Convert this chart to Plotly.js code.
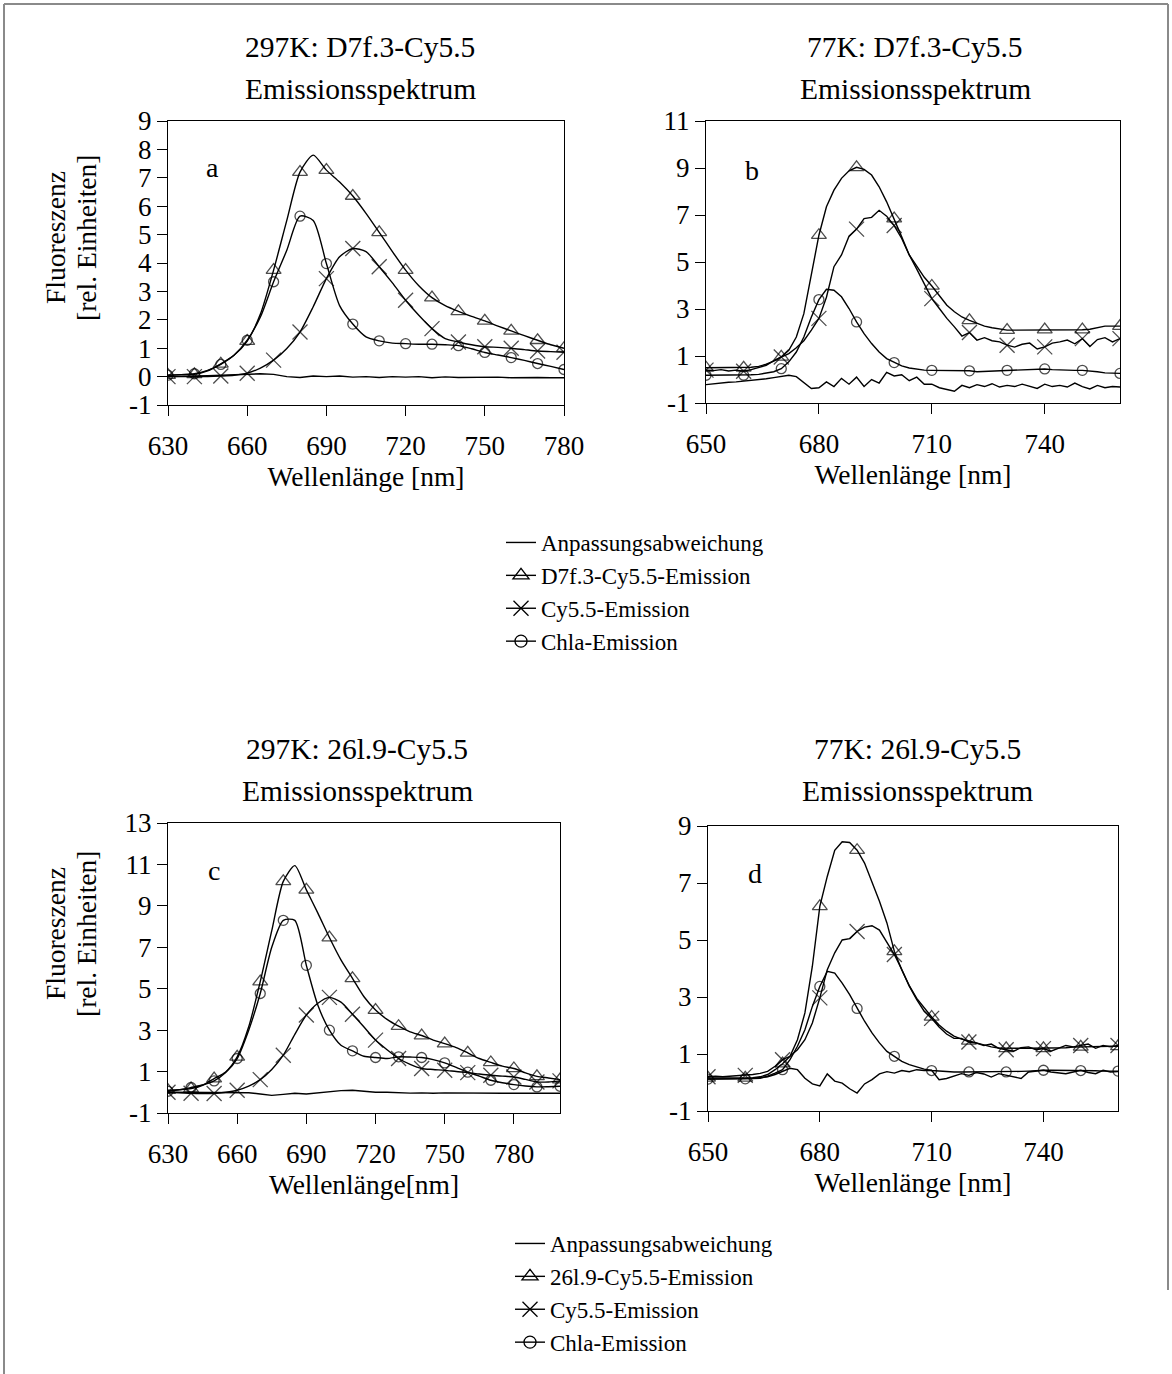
<!DOCTYPE html>
<html><head><meta charset="utf-8">
<script src="https://cdn.plot.ly/plotly-3.0.1.min.js"></script>
<style>html,body{margin:0;padding:0;background:#fff;}#chart{width:1172px;height:1374px;}</style>
</head><body><div id="chart"></div>
<script>
// ---------- Panel a: 297K D7f.3-Cy5.5 ----------
const waveA = [630,635,640,645,650,655,660,665,670,675,680,685,690,695,700,705,710,715,720,725,730,735,740,745,750,755,760,765,770,775,780];
const fitA   = [0.00,0.00,0.02,0.03,0.05,0.06,0.08,0.10,0.08,0.00,-0.03,0.02,0.00,0.02,-0.02,0.00,-0.03,0.00,-0.02,0.00,-0.04,-0.01,-0.03,-0.02,-0.03,-0.02,-0.04,-0.03,-0.03,-0.04,-0.04];
const totalA = [0.05,0.07,0.08,0.2,0.45,0.75,1.25,2.2,3.75,5.5,7.2,7.8,7.27,6.85,6.36,5.75,5.08,4.4,3.75,3.2,2.78,2.5,2.3,2.12,1.96,1.78,1.61,1.44,1.28,1.12,1.0];
const cyA    = [0,0,0,0,0.02,0.05,0.12,0.3,0.58,0.99,1.57,2.46,3.45,4.22,4.51,4.4,3.87,3.3,2.69,2.16,1.69,1.34,1.22,1.12,1.05,1.03,1.0,0.95,0.9,0.88,0.86];
const chlA   = [0.05,0.07,0.1,0.22,0.43,0.75,1.28,2.1,3.34,4.45,5.65,5.5,3.98,2.5,1.85,1.4,1.26,1.18,1.16,1.14,1.14,1.12,1.09,0.98,0.85,0.76,0.67,0.57,0.46,0.36,0.25];

// ---------- Panel b: 77K D7f.3-Cy5.5 ----------
const waveB = [650,652,654,656,658,660,662,664,666,668,670,672,674,676,678,680,682,684,686,688,690,692,694,696,698,700,702,704,706,708,710,712,714,716,718,720,722,724,726,728,730,732,734,736,738,740,742,744,746,748,750,752,754,756,758,760];
const fitB   = [-0.22,-0.18,-0.15,-0.12,-0.1,-0.07,-0.05,-0.02,0.03,0.08, 0.12,0.18,0.12,-0.15,-0.38,-0.35,-0.1,-0.3,0.05,-0.2, 0.1,-0.3,0.0,-0.15,0.3,0.15,0.2,-0.05,0.1,-0.2, -0.2,-0.35,-0.42,-0.5,-0.25,-0.35,-0.22,-0.3,-0.18,-0.32, -0.25,-0.3,-0.2,-0.28,-0.38,-0.2,-0.3,-0.25,-0.32,-0.15, -0.3,-0.4,-0.25,-0.35,-0.3,-0.32];
const totalB = [0.5,0.5,0.5,0.5,0.5,0.5,0.52,0.56,0.65,0.78, 0.96,1.24,1.81,2.8,4.5,6.14,7.35,8.06,8.56,8.88, 9.03,8.94,8.7,8.2,7.56,6.85,6.07,5.3,4.8,4.35, 3.98,3.55,3.16,2.88,2.66,2.52,2.38,2.27,2.2,2.15, 2.1,2.1,2.1,2.1,2.1,2.12,2.12,2.12,2.12,2.12, 2.12,2.14,2.2,2.27,2.27,2.27];
const cyB    = [0.4,0.38,0.42,0.36,0.4,0.35,0.42,0.5,0.6,0.8, 0.96,1.1,1.35,1.65,2.1,2.6,3.5,4.8,5.3,6.1, 6.4,6.85,6.9,7.2,6.95,6.55,6.0,5.3,4.7,4.05, 3.44,3.02,2.6,2.24,1.85,2.0,1.67,1.78,1.65,1.6, 1.46,1.38,1.5,1.55,1.3,1.39,1.55,1.6,1.68,1.52, 1.74,1.4,1.7,1.78,1.6,1.74];
const chlB   = [0.18,0.18,0.18,0.18,0.18,0.18,0.2,0.22,0.26,0.33, 0.46,0.75,1.17,1.81,2.66,3.4,3.84,3.8,3.52,3.02, 2.45,1.95,1.53,1.17,0.89,0.72,0.58,0.49,0.43,0.4, 0.39,0.39,0.39,0.38,0.38,0.37,0.33,0.34,0.37,0.38, 0.39,0.39,0.39,0.4,0.42,0.45,0.42,0.4,0.39,0.39, 0.39,0.37,0.33,0.28,0.26,0.26];

// ---------- Panel c: 297K 26l.9-Cy5.5 ----------
const waveC = [630,635,640,645,650,655,660,665,670,675,680,685,690,695,700,705,710,715,720,725,730,735,740,745,750,755,760,765,770,775,780,785,790,795,800];
const fitC   = [0,0,0,0,0,0,0,-0.02,-0.08,-0.15,-0.1,-0.05,-0.08,-0.02,0.05,0.08,0.1,0.06,0,0,-0.03,-0.04,-0.03,-0.05,-0.03,-0.04,-0.05,-0.04,-0.04,-0.05,-0.05,-0.05,-0.05,-0.05,-0.05];
const totalC = [0.1,0.13,0.18,0.34,0.66,0.98,1.71,3.16,5.34,7.8,10.18,10.94,9.77,8.65,7.47,6.39,5.5,4.61,3.97,3.52,3.19,2.92,2.74,2.52,2.35,2.16,1.9,1.63,1.44,1.26,1.15,0.94,0.77,0.69,0.61];
const cyC    = [0.0,-0.02,-0.05,-0.06,-0.06,0.0,0.1,0.3,0.61,1.1,1.79,2.8,3.73,4.3,4.58,4.35,3.77,3.15,2.52,2.05,1.63,1.35,1.15,1.1,1.06,1.0,0.95,0.88,0.82,0.78,0.74,0.62,0.5,0.5,0.55];
const chlC   = [0.05,0.12,0.23,0.35,0.55,0.95,1.63,3.0,4.77,7.0,8.3,8.3,6.13,4.2,3.0,2.27,2.0,1.74,1.68,1.63,1.71,1.7,1.68,1.58,1.42,1.2,0.97,0.78,0.58,0.46,0.37,0.3,0.26,0.27,0.29];

// ---------- Panel d: 77K 26l.9-Cy5.5 ----------
const waveD = [650,652,654,656,658,660,662,664,666,668,670,672,674,676,678,680,682,684,686,688,690,692,694,696,698,700,702,704,706,708,710,712,714,716,718,720,722,724,726,728,730,732,734,736,738,740,742,744,746,748,750,752,754,756,758,760];
const fitD   = [0.12,0.12,0.13,0.12,0.13,0.14,0.15,0.17,0.2,0.28, 0.38,0.5,0.45,0.15,-0.05,-0.12,0.3,0.05,-0.02,-0.22, -0.37,-0.05,0.1,0.3,0.38,0.33,0.42,0.38,0.45,0.42, 0.43,0.1,0.14,0.22,0.31,0.25,0.35,0.3,0.19,0.31, 0.25,0.2,0.14,0.37,0.4,0.43,0.37,0.33,0.31,0.37, 0.43,0.35,0.31,0.43,0.37,0.38];
const totalD = [0.16,0.16,0.16,0.16,0.16,0.16,0.17,0.2,0.28,0.45, 0.66,0.92,1.5,2.44,4.08,6.18,7.23,8.15,8.45,8.42, 8.15,7.7,7.06,6.36,5.6,4.6,3.95,3.4,2.95,2.62, 2.3,2.02,1.8,1.63,1.52,1.46,1.39,1.3,1.25,1.21, 1.2,1.2,1.2,1.2,1.2,1.2,1.2,1.2,1.22,1.24, 1.25,1.26,1.27,1.27,1.27,1.27];
const cyD    = [0.2,0.22,0.2,0.22,0.23,0.25,0.28,0.32,0.39,0.57, 0.8,0.92,1.15,1.5,2.09,2.97,3.96,4.55,5.0,5.05, 5.3,5.45,5.5,5.35,4.9,4.49,3.96,3.38,2.91,2.5, 2.25,1.95,1.7,1.55,1.55,1.42,1.38,1.3,1.35,1.2, 1.15,1.1,1.22,1.25,1.15,1.19,1.1,1.2,1.3,1.25, 1.3,1.35,1.2,1.3,1.25,1.3];
const chlD   = [0.12,0.12,0.12,0.12,0.12,0.13,0.14,0.15,0.22,0.33, 0.45,0.8,1.27,1.85,2.67,3.37,3.9,3.84,3.49,3.08, 2.6,2.15,1.74,1.39,1.09,0.92,0.74,0.63,0.55,0.47, 0.42,0.4,0.38,0.37,0.37,0.37,0.37,0.37,0.37,0.37, 0.37,0.38,0.39,0.4,0.42,0.43,0.43,0.43,0.43,0.42, 0.42,0.41,0.41,0.4,0.4,0.4];

// ---------- Labels ----------
const seriesNamesTop = ['Anpassungsabweichung','D7f.3-Cy5.5-Emission','Cy5.5-Emission','Chla-Emission'];
const seriesNamesBottom = ['Anpassungsabweichung','26l.9-Cy5.5-Emission','Cy5.5-Emission','Chla-Emission'];
const panelTitles = [['297K: D7f.3-Cy5.5','Emissionsspektrum'],['77K: D7f.3-Cy5.5','Emissionsspektrum'],['297K: 26l.9-Cy5.5','Emissionsspektrum'],['77K: 26l.9-Cy5.5','Emissionsspektrum']];
const panelLetters = ['a','b','c','d'];
const xTitles = ['Wellenlänge [nm]','Wellenlänge [nm]','Wellenlänge[nm]','Wellenlänge [nm]'];
const yTitleLines = ['Fluoreszenz','[rel. Einheiten]'];
const xTicksA = [630,660,690,720,750,780];
const xTicksB = [650,680,710,740];
const yTicksA = [-1,0,1,2,3,4,5,6,7,8,9];
const yTicksB = [-1,1,3,5,7,9,11];
const yTicksC = [-1,1,3,5,7,9,11,13];
const yTicksD = [-1,1,3,5,7,9];

const FONT = '"Liberation Serif", "Times New Roman", serif';
const W = 1172, H = 1374;
const px = v => v / W;
const py = v => 1 - v / H;

const symbols = [null, 'triangle-up-open', 'x-thin-open', 'circle-open'];
const symSizes = [0, 13, 15, 10];
const legendSizes = [0, 14, 15, 12];

function panelTraces(xs, ys, names, ax, shape) {
  return ys.map((y, i) => {
    const t = {
      x: xs, y: y, name: names[i], type: 'scatter',
      xaxis: 'x' + (ax === 1 ? '' : ax), yaxis: 'y' + (ax === 1 ? '' : ax),
      line: {color: '#000', width: 1.4, shape: (i === 0 ? 'linear' : shape), smoothing: 0.7},
      showlegend: false, hoverinfo: 'skip'
    };
    if (i === 0) {
      t.mode = 'lines';
    } else {
      t.mode = 'lines+markers';
      t.marker = {symbol: symbols[i], color: '#000', size: xs.map(v => v % 10 === 0 ? symSizes[i] : 0),
                  line: {width: 1.3, color: '#000'}};
    }
    return t;
  });
}
// legend keys (no data of their own)
function legendKeys(names, legendId) {
  return names.map((n, i) => {
    const t = {x: [null], y: [null], name: n, type: 'scatter', legend: legendId, showlegend: true,
      line: {color: '#000', width: 1.4}, hoverinfo: 'skip', mode: i === 0 ? 'lines' : 'lines+markers'};
    if (i > 0) t.marker = {symbol: symbols[i], color: '#000', size: legendSizes[i], line: {width: 1.3, color: '#000'}};
    return t;
  });
}

const data = [].concat(
  panelTraces(waveA, [fitA, totalA, cyA, chlA], seriesNamesTop, 1, 'spline'),
  panelTraces(waveB, [fitB, totalB, cyB, chlB], seriesNamesTop, 2, 'linear'),
  panelTraces(waveC, [fitC, totalC, cyC, chlC], seriesNamesBottom, 3, 'spline'),
  panelTraces(waveD, [fitD, totalD, cyD, chlD], seriesNamesBottom, 4, 'linear'),
  legendKeys(seriesNamesTop, 'legend'),
  legendKeys(seriesNamesBottom, 'legend2')
);

const tickFont = {family: FONT, size: 27, color: '#000'};
const titleFont = {family: FONT, size: 27.5, color: '#000'};

function xAxis(domain, range, ticks, anchor, title) {
  return {domain, range, anchor, tickmode: 'array', tickvals: ticks, ticktext: ticks.map(String),
    ticks: 'outside', ticklen: 10, ticklabelstandoff: 7,
    tickwidth: 1, tickcolor: '#000', showline: true, linecolor: '#000', linewidth: 1, mirror: true,
    showgrid: false, zeroline: false, tickfont: tickFont, automargin: false,
    title: {text: title, font: titleFont, standoff: 6}};
}
function yAxis(domain, range, ticks, anchor) {
  return {domain, range, anchor, tickmode: 'array', tickvals: ticks, ticktext: ticks.map(String),
    ticks: 'outside', ticklen: 10,
    tickwidth: 1, tickcolor: '#000', showline: true, linecolor: '#000', linewidth: 1, mirror: true,
    showgrid: false, zeroline: false, tickfont: tickFont, automargin: false};
}

const boxes = [
  {x0: 168, x1: 564, y0: 121, y1: 405},
  {x0: 706, x1: 1120, y0: 121, y1: 403},
  {x0: 168, x1: 560, y0: 823, y1: 1113},
  {x0: 708, x1: 1118, y0: 826, y1: 1111}
];
const dx = b => [px(b.x0), px(b.x1)];
const dy = b => [py(b.y1), py(b.y0)];

const annotations = [];
const titleCenters = [[360, 47, 89], [915, 47, 89], [357, 749, 791], [917, 749, 791]];
panelTitles.forEach((t, i) => {
  const c = titleCenters[i];
  [1, 2].forEach(k => annotations.push({text: t[k - 1], x: px(c[0]), y: py(c[k]), xref: 'paper', yref: 'paper',
    showarrow: false, xanchor: 'center', yanchor: 'middle', font: {family: FONT, size: 29.5, color: '#000'}}));
});
const letterPos = [[212, 168], [752, 170], [214, 870], [755, 873]];
panelLetters.forEach((l, i) => {
  annotations.push({text: l, x: px(letterPos[i][0]), y: py(letterPos[i][1]), xref: 'paper', yref: 'paper',
    showarrow: false, xanchor: 'center', yanchor: 'middle', font: {family: FONT, size: 28, color: '#000'}});
});
// y-axis titles (panels a and c), two rotated lines
[[238], [934]].forEach(([yc]) => {
  [[55, 0], [86, 1]].forEach(([xc, k]) => annotations.push({text: yTitleLines[k], x: px(xc), y: py(yc),
    xref: 'paper', yref: 'paper', showarrow: false, textangle: -90, xanchor: 'center', yanchor: 'middle',
    font: {family: FONT, size: 27.5, color: '#000'}}));
});

const frame = {color: '#8a8a8a', width: 2};
const shapes = [
  {type: 'line', xref: 'paper', yref: 'paper', x0: px(4), x1: px(4), y0: 0, y1: py(4), line: frame},
  {type: 'line', xref: 'paper', yref: 'paper', x0: px(4), x1: px(1168), y0: py(4), y1: py(4), line: frame},
  {type: 'line', xref: 'paper', yref: 'paper', x0: px(1168), x1: px(1168), y0: py(1290), y1: py(4), line: frame}
];

const legendBase = {xanchor: 'left', yanchor: 'top', bgcolor: 'rgba(0,0,0,0)', borderwidth: 0,
  traceorder: 'normal', font: {family: FONT, size: 23, color: '#000'}};

const layout = {
  width: W, height: H, margin: {l: 0, r: 0, t: 0, b: 0}, paper_bgcolor: '#fff', plot_bgcolor: '#fff',
  font: {family: FONT, color: '#000'},
  xaxis:  xAxis(dx(boxes[0]), [630, 780], xTicksA, 'y', xTitles[0]),
  yaxis:  yAxis(dy(boxes[0]), [-1, 9], yTicksA, 'x'),
  xaxis2: xAxis(dx(boxes[1]), [650, 760], xTicksB, 'y2', xTitles[1]),
  yaxis2: yAxis(dy(boxes[1]), [-1, 11], yTicksB, 'x2'),
  xaxis3: xAxis(dx(boxes[2]), [630, 800], xTicksA, 'y3', xTitles[2]),
  yaxis3: yAxis(dy(boxes[2]), [-1, 13], yTicksC, 'x3'),
  xaxis4: xAxis(dx(boxes[3]), [650, 760], xTicksB, 'y4', xTitles[3]),
  yaxis4: yAxis(dy(boxes[3]), [-1, 9], yTicksD, 'x4'),
  legend:  Object.assign({x: px(501), y: py(521)}, legendBase),
  legend2: Object.assign({x: px(510), y: py(1222)}, legendBase),
  showlegend: true,
  annotations, shapes
};

Plotly.newPlot('chart', data, layout, {displayModeBar: false, staticPlot: true});
</script></body></html>
